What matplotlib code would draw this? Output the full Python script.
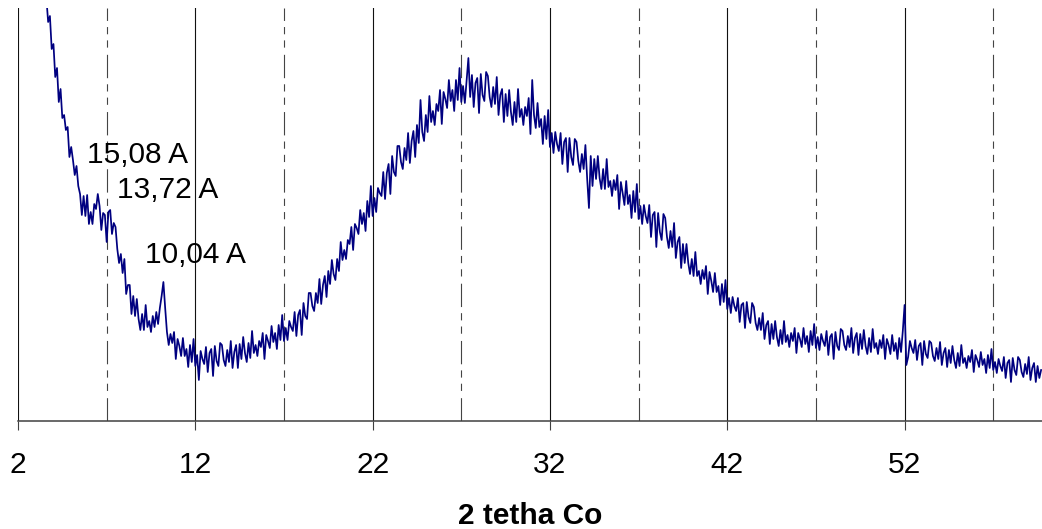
import numpy as np
import matplotlib
matplotlib.use("Agg")
import matplotlib.pyplot as plt

plt.rcParams['font.family'] = ['Liberation Sans', 'DejaVu Sans']

# Diffractogram scan: start angle and step (2 theta, Co K-alpha)
scan_start = 3.5
scan_step = 0.1

# Measured intensity (arbitrary units), one row per degree of 2 theta
intensity = [
    440, 422, 398, 404, 371, 376, 343, 352, 318, 331,   # 3.5
    302, 305, 290, 293, 263, 273, 260, 245, 254, 234,   # 4.5
    226, 205, 224, 204, 225, 196, 208, 196, 216, 211,   # 5.5
    226, 214, 190, 207, 205, 178, 208, 210, 186, 197,   # 6.5
    193, 171, 157, 166, 147, 161, 126, 135, 135, 106,   # 7.5
    124, 104, 121, 101, 90, 106, 90, 115, 93, 99,       # 8.5
    88, 104, 93, 108, 96, 112, 124, 138, 112, 88,       # 9.5
    75, 86, 77, 88, 61, 81, 74, 64, 82, 64,             # 10.5
    71, 53, 75, 58, 81, 54, 65, 40, 69, 61,             # 11.5
    56, 73, 48, 67, 71, 44, 74, 59, 54, 77,             # 12.5
    75, 60, 54, 70, 58, 79, 52, 68, 75, 52,             # 13.5
    76, 61, 83, 67, 58, 77, 62, 89, 67, 75,             # 14.5
    64, 79, 73, 87, 61, 85, 79, 72, 94, 78,             # 15.5
    87, 71, 95, 80, 105, 79, 92, 80, 99, 93,            # 16.5
    89, 108, 84, 105, 110, 85, 117, 104, 101, 127,      # 17.5
    127, 114, 109, 127, 117, 141, 116, 135, 144, 123,   # 18.5
    149, 136, 160, 146, 140, 161, 149, 178, 160, 170,   # 19.5
    161, 180, 176, 193, 170, 196, 192, 186, 210, 196,   # 20.5
    207, 189, 219, 203, 234, 204, 222, 208, 232, 227,   # 21.5
    224, 248, 221, 247, 256, 226, 264, 248, 244, 274,   # 22.5
    274, 258, 251, 272, 260, 287, 257, 279, 289, 263,   # 23.5
    295, 277, 320, 288, 279, 305, 288, 324, 298, 309,   # 24.5
    295, 316, 309, 330, 296, 328, 321, 312, 340, 319,   # 25.5
    330, 309, 340, 320, 352, 318, 334, 317, 340, 362,   # 26.5
    323, 345, 313, 337, 342, 307, 346, 325, 319, 348,   # 27.5
    344, 323, 313, 333, 316, 343, 305, 325, 331, 298,   # 28.5
    326, 304, 330, 308, 295, 318, 298, 331, 303, 311,   # 29.5
    295, 313, 304, 322, 286, 340, 305, 292, 317, 293,   # 30.5
    301, 276, 304, 281, 310, 273, 287, 267, 288, 276,   # 31.5
    269, 287, 256, 278, 282, 248, 282, 263, 255, 281,   # 32.5
    278, 259, 248, 266, 251, 275, 241, 212, 264, 234,   # 33.5
    261, 241, 264, 242, 231, 251, 231, 261, 233, 239,   # 34.5
    224, 240, 230, 245, 211, 238, 227, 215, 239, 216,   # 35.5
    225, 202, 229, 208, 236, 201, 214, 196, 215, 204,   # 36.5
    197, 215, 183, 205, 208, 173, 207, 188, 180, 206,   # 37.5
    202, 183, 172, 189, 173, 197, 162, 178, 183, 152,   # 38.5
    176, 157, 176, 157, 146, 161, 144, 168, 144, 149,   # 39.5
    136, 150, 141, 154, 126, 148, 139, 128, 147, 128,   # 40.5
    134, 115, 136, 118, 140, 111, 122, 107, 123, 114,   # 41.5
    109, 122, 98, 115, 117, 92, 118, 103, 97, 117,      # 42.5
    113, 97, 90, 102, 90, 107, 81, 95, 99, 76,          # 43.5
    96, 81, 99, 83, 74, 90, 76, 99, 78, 85,             # 44.5
    73, 87, 79, 92, 67, 87, 81, 73, 92, 76,             # 45.5
    84, 68, 89, 75, 96, 72, 83, 70, 86, 79,             # 46.5
    74, 89, 65, 83, 86, 61, 88, 74, 70, 91,             # 47.5
    89, 75, 70, 84, 73, 92, 67, 82, 87, 65,             # 48.5
    86, 71, 90, 74, 66, 82, 68, 91, 72, 77,             # 49.5
    66, 80, 72, 85, 61, 81, 75, 66, 85, 69,             # 50.5
    77, 61, 82, 68, 89, 115, 55, 63, 79, 72,            # 51.5
    67, 80, 60, 74, 77, 55, 79, 66, 62, 79,             # 52.5
    77, 64, 59, 72, 61, 78, 55, 67, 72, 53,             # 53.5
    70, 57, 74, 60, 52, 67, 54, 75, 57, 62,             # 54.5
    52, 64, 58, 70, 48, 65, 60, 53, 68, 55,             # 55.5
    61, 47, 65, 52, 71, 50, 58, 47, 61, 54,             # 56.5
    49, 63, 42, 57, 60, 38, 62, 50, 45, 63,             # 57.5
    60, 48, 43, 56, 46, 63, 40, 52, 57, 38,             # 58.5
    54, 42, 50,                                         # 59.5
]

# Tick positions and labels
major_ticks = [2, 12, 22, 32, 42, 52]
minor_grid = [7, 17, 27, 37, 47, 57]

# Peak annotations: (text, 2 theta, intensity at baseline)
peak_labels = ["15,08 A", "13,72 A", "10,04 A"]
peak_x = [5.89, 7.58, 9.16]
peak_y = [257, 222, 157]

two_theta = scan_start + scan_step * np.arange(len(intensity))

W, H = 1042, 529
fig = plt.figure(figsize=(W / 100, H / 100), dpi=100)
ax = fig.add_axes([18 / W, (H - 421) / H, 1024 / W, 413 / H])

ax.set_xlim(2, 59.75)
ax.set_ylim(-1, 412)

for x in major_ticks:
    ax.axvline(x, color='#111111', lw=0.8, zorder=1)
for x in minor_grid:
    ax.axvline(x, color='#444444', lw=0.8, zorder=1,
               dashes=(21, 6.5, 6.5, 5.5, 6.5, 5.5))

ax.plot(two_theta, intensity, color='#000080', lw=1.25, zorder=3)

for s, x, y in zip(peak_labels, peak_x, peak_y):
    ax.text(x, y, s, fontsize=21.5, ha='left', va='baseline', color='black', zorder=4)

for side in ['top', 'right', 'left']:
    ax.spines[side].set_visible(False)
ax.spines['bottom'].set_color('#404040')
ax.spines['bottom'].set_linewidth(1.1)

ax.set_xticks(major_ticks)
ax.set_xticklabels([str(t) for t in major_ticks])
ax.tick_params(axis='x', direction='out', length=6.5, width=0.8, color='#404040',
               labelsize=21.5, pad=15)
ax.set_yticks([])
ax.set_xlabel('2 tetha Co', fontsize=21.5, fontweight='bold', labelpad=17)

fig.savefig('out.png', dpi=100)
